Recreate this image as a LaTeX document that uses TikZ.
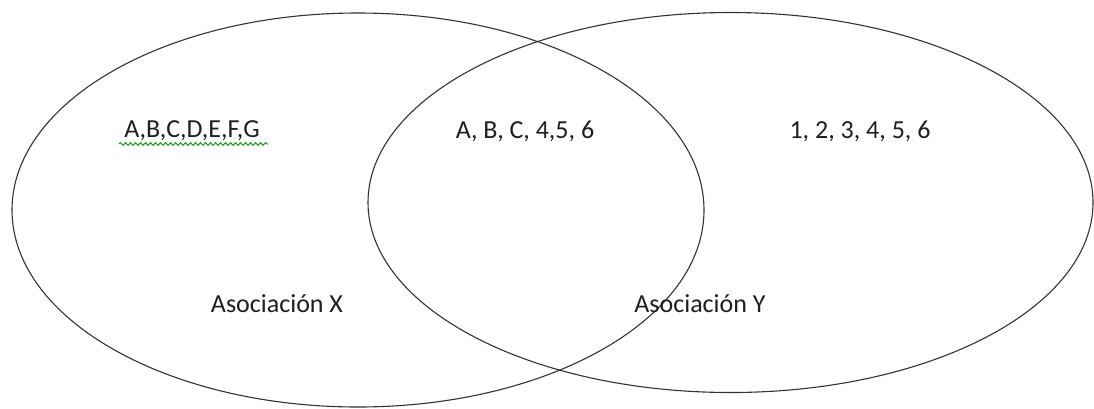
\documentclass[tikz,border=0pt]{standalone}
\usepackage{fontspec}
\setmainfont{Carlito}
\usetikzlibrary{decorations.pathmorphing}
\begin{document}
\begin{tikzpicture}[x=1pt,y=-1pt,
  setline/.style={draw=black!80,line width=1.1pt},
  lbl/.style={font=\fontsize{26}{30}\selectfont,text=black!88,inner sep=0pt,anchor=center},
  spell/.style={draw=green!60!black,line width=0.9pt,decorate,decoration={snake,amplitude=1.4pt,segment length=5pt}}]
\useasboundingbox (0,0) rectangle (1094,408);
\fill[white] (0,0) rectangle (1094,408);
\draw[setline] (358,210) ellipse [x radius=346pt, y radius=197pt];
\draw[setline] (730.5,202.5) ellipse [x radius=362.5pt, y radius=190pt];
\node[lbl] (left) at (192,131) {A,B,C,D,E,F,G};
\coordinate (ul1) at (119,144);
\coordinate (ul2) at (268,144);
\draw[spell] (ul1) -- (ul2);
\node[lbl] (mid) at (525,131) {A, B, C, 4,5, 6};
\node[lbl] (right) at (860,131) {1, 2, 3, 4, 5, 6};
\node[lbl] (ax) at (277,304) {Asociación X};
\node[lbl] (ay) at (700,304) {Asociación Y};
\end{tikzpicture}
\end{document}
